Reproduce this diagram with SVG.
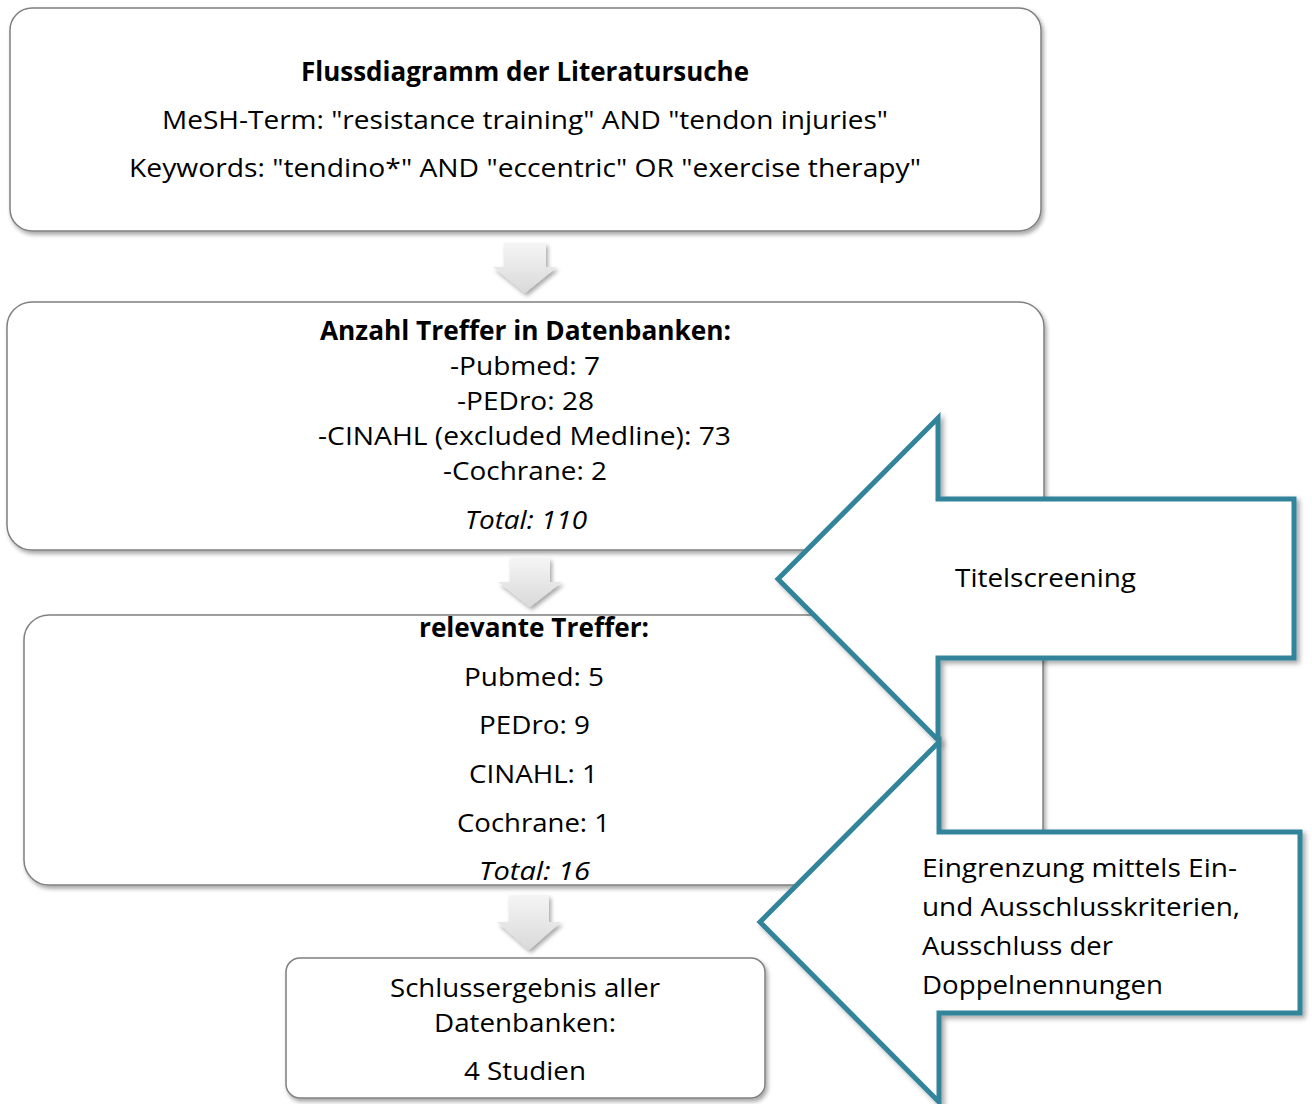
<svg xmlns="http://www.w3.org/2000/svg" width="1312" height="1104" viewBox="0 0 1312 1104">
<defs>
<filter id="shadow" x="-5%" y="-5%" width="115%" height="120%">
<feDropShadow dx="2" dy="3" stdDeviation="2" flood-color="#000" flood-opacity="0.35"/>
</filter>
<filter id="ashadow" x="-10%" y="-10%" width="130%" height="130%">
<feDropShadow dx="3" dy="3" stdDeviation="2.5" flood-color="#000" flood-opacity="0.35"/>
</filter>
<linearGradient id="grayGrad" x1="0" y1="0" x2="0" y2="1">
<stop offset="0" stop-color="#f5f5f5"/>
<stop offset="1" stop-color="#d9d9d9"/>
</linearGradient>
<style>
.box{fill:#ffffff;stroke:#808080;stroke-width:1.5;filter:url(#shadow);}
.down{fill:url(#grayGrad);stroke:none;filter:url(#shadow);}
.callout{fill:#ffffff;stroke:#31849B;stroke-width:5;stroke-linejoin:miter;filter:url(#ashadow);}
text{font-family:"Open Sans","Noto Sans","DejaVu Sans",sans-serif;font-size:26px;fill:#000;}
.c{text-anchor:middle;}
.b{font-weight:bold;}
.i{font-style:italic;}
</style>
</defs>
<rect width="1312" height="1104" fill="#ffffff"/>

<g id="box1">
<rect class="box" x="10" y="8" width="1031" height="223" rx="22"/>
<text class="c b" x="525" y="81" textLength="448" lengthAdjust="spacingAndGlyphs">Flussdiagramm der Literatursuche</text>
<text class="c" x="525" y="129" textLength="726" lengthAdjust="spacingAndGlyphs">MeSH-Term: "resistance training" AND "tendon injuries"</text>
<text class="c" x="525" y="177" textLength="792" lengthAdjust="spacingAndGlyphs">Keywords: "tendino*" AND "eccentric" OR "exercise therapy"</text>
</g>

<g id="box2">
<rect class="box" x="7" y="302" width="1037" height="248" rx="25"/>
<text class="c b" x="525.5" y="340" textLength="411" lengthAdjust="spacingAndGlyphs">Anzahl Treffer in Datenbanken:</text>
<text class="c" x="525" y="375" textLength="150" lengthAdjust="spacingAndGlyphs">-Pubmed: 7</text>
<text class="c" x="525.5" y="410" textLength="137" lengthAdjust="spacingAndGlyphs">-PEDro: 28</text>
<text class="c" x="524.5" y="445" textLength="413" lengthAdjust="spacingAndGlyphs">-CINAHL (excluded Medline): 73</text>
<text class="c" x="525" y="480" textLength="164" lengthAdjust="spacingAndGlyphs">-Cochrane: 2</text>
<text class="c i" x="526" y="529" textLength="122" lengthAdjust="spacingAndGlyphs">Total: 110</text>
</g>

<g id="box3">
<rect class="box" x="24" y="615" width="1019" height="270" rx="25"/>
<text class="c b" x="534" y="637" textLength="230" lengthAdjust="spacingAndGlyphs">relevante Treffer:</text>
<text class="c" x="534" y="686" textLength="140" lengthAdjust="spacingAndGlyphs">Pubmed: 5</text>
<text class="c" x="534.5" y="734" textLength="111" lengthAdjust="spacingAndGlyphs">PEDro: 9</text>
<text class="c" x="533.5" y="783" textLength="129" lengthAdjust="spacingAndGlyphs">CINAHL: 1</text>
<text class="c" x="533.5" y="832" textLength="153" lengthAdjust="spacingAndGlyphs">Cochrane: 1</text>
<text class="c i" x="534.5" y="880" textLength="111" lengthAdjust="spacingAndGlyphs">Total: 16</text>
</g>

<g id="box4">
<rect class="box" x="286" y="958" width="479" height="140" rx="14"/>
<text class="c" x="525" y="997" textLength="270" lengthAdjust="spacingAndGlyphs">Schlussergebnis aller</text>
<text class="c" x="525" y="1032" textLength="182" lengthAdjust="spacingAndGlyphs">Datenbanken:</text>
<text class="c" x="525" y="1080" textLength="122" lengthAdjust="spacingAndGlyphs">4 Studien</text>
</g>

<g id="connectors">
<polygon class="down" points="504,243 546,243 546,267 557,267 525,293 493,267 504,267"/>
<polygon class="down" points="510,558 550,558 550,582 562,582 530,607 498,582 510,582"/>
<polygon class="down" points="509,895 549,895 549,922 561,922 529,950 497,922 509,922"/>
</g>

<g id="titelscreening">
<polygon class="callout" points="778,579 938,418 938,499 1294,499 1294,658 938,658 938,740"/>
<text x="955" y="587" textLength="181" lengthAdjust="spacingAndGlyphs">Titelscreening</text>
</g>

<g id="eingrenzung">
<polygon class="callout" points="760,922 939,742 939,832 1300,832 1300,1013 939,1013 939,1102"/>
<text x="922" y="877" textLength="315" lengthAdjust="spacingAndGlyphs">Eingrenzung mittels Ein-</text>
<text x="922" y="916" textLength="318" lengthAdjust="spacingAndGlyphs">und Ausschlusskriterien,</text>
<text x="922" y="955" textLength="191" lengthAdjust="spacingAndGlyphs">Ausschluss der</text>
<text x="922" y="994" textLength="241" lengthAdjust="spacingAndGlyphs">Doppelnennungen</text>
</g>
</svg>
